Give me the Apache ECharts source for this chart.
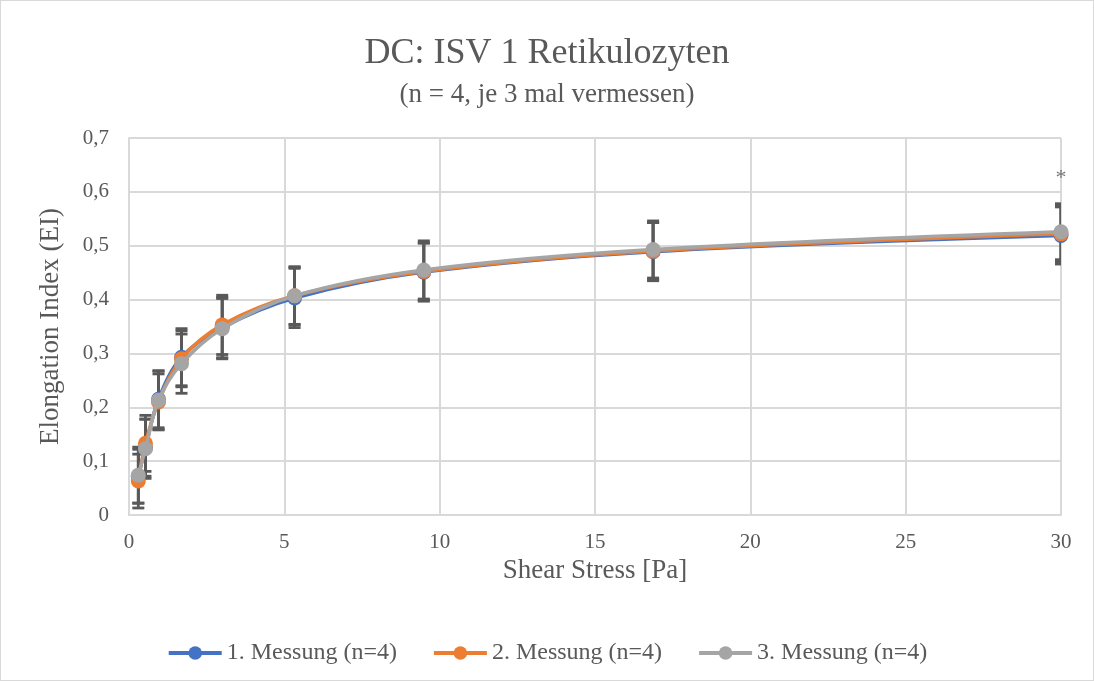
<!DOCTYPE html>
<html>
<head>
<meta charset="utf-8">
<script src="https://cdn.jsdelivr.net/npm/echarts@6/dist/echarts.min.js"></script>
<style>
  html, body { margin: 0; padding: 0; background: #ffffff; }
  #chart { width: 1092px; height: 679px; border: 1px solid #d9d9d9; }
</style>
</head>
<body>
<div id="chart"></div>
<script>
// Shear stress levels [Pa]
const shearStress = [0.3, 0.53, 0.95, 1.69, 3.0, 5.33, 9.49, 16.87, 30];

// Mean elongation index per measurement run
const messung1 = [0.072, 0.125, 0.215, 0.293, 0.348, 0.403, 0.451, 0.489, 0.519];
const messung2 = [0.063, 0.133, 0.210, 0.290, 0.353, 0.407, 0.452, 0.490, 0.522];
const messung3 = [0.074, 0.123, 0.213, 0.281, 0.346, 0.407, 0.455, 0.493, 0.526];

// Standard deviations (error bars)
const sd1 = [0.050, 0.053, 0.053, 0.053, 0.056, 0.055, 0.054, 0.054, 0.053];
const sd2 = [0.050, 0.052, 0.052, 0.052, 0.055, 0.053, 0.053, 0.053, 0.053];
const sd3 = [0.052, 0.055, 0.054, 0.055, 0.056, 0.054, 0.054, 0.053, 0.052];

const seriesNames = ['1. Messung (n=4)', '2. Messung (n=4)', '3. Messung (n=4)'];
const seriesColors = ['#4472C4', '#ED7D31', '#A5A5A5'];

// Significance marker
const significance = [[30, 0.626, '*']];

const xTicks = { min: 0, max: 30, interval: 5 };
const yTicks = { min: 0, max: 0.7, interval: 0.1 };

const font = '"Liberation Serif", "Times New Roman", serif';
const textColor = '#595959';

const means = [messung1, messung2, messung3];
const sds = [sd1, sd2, sd3];

function errorBarSeries(idx) {
  const data = shearStress.map((x, i) => [x, means[idx][i] - sds[idx][i], means[idx][i] + sds[idx][i]]);
  return {
    type: 'custom',
    name: 'err' + idx,
    data: data,
    z: 1,
    clip: true,
    silent: true,
    encode: { x: 0, y: [1, 2] },
    renderItem: function (params, api) {
      const x = api.value(0);
      const lo = api.coord([x, api.value(1)]);
      const hi = api.coord([x, api.value(2)]);
      const hw = 6;
      const style = { stroke: '#595959', lineWidth: 2.8, fill: null };
      return {
        type: 'group',
        children: [
          { type: 'line', shape: { x1: lo[0], y1: lo[1], x2: hi[0], y2: hi[1] }, style: style },
          { type: 'line', shape: { x1: hi[0] - hw, y1: hi[1], x2: hi[0] + hw, y2: hi[1] }, style: style },
          { type: 'line', shape: { x1: lo[0] - hw, y1: lo[1], x2: lo[0] + hw, y2: lo[1] }, style: style }
        ]
      };
    }
  };
}

function lineSeries(idx) {
  return {
    type: 'line',
    name: seriesNames[idx],
    data: shearStress.map((x, i) => [x, means[idx][i]]),
    smooth: 0.35,
    z: 2 + idx,
    symbol: 'circle',
    symbolSize: 15,
    showSymbol: true,
    itemStyle: { color: seriesColors[idx] },
    lineStyle: { color: seriesColors[idx], width: 3.5 },
    emphasis: { disabled: true }
  };
}

const chart = echarts.init(document.getElementById('chart'), null, { renderer: 'canvas' });

chart.setOption({
  animation: false,
  backgroundColor: '#ffffff',
  title: [
    {
      left: 'center', top: 30,
      text: 'DC: ISV 1 Retikulozyten',
      textStyle: { fontFamily: font, fontSize: 36, fontWeight: 'normal', color: textColor }
    },
    {
      left: 'center', top: 75,
      text: '(n = 4, je 3 mal vermessen)',
      textStyle: { fontFamily: font, fontSize: 27, fontWeight: 'normal', color: textColor }
    }
  ],
  legend: {
    data: seriesNames,
    top: 635,
    left: 'center',
    itemWidth: 53,
    itemHeight: 17,
    itemGap: 35,
    lineStyle: { width: 4 },
    textStyle: { fontFamily: font, fontSize: 24, color: textColor }
  },
  grid: { left: 128, right: 32, top: 137, bottom: 165, containLabel: false },
  xAxis: {
    type: 'value',
    min: xTicks.min, max: xTicks.max, interval: xTicks.interval,
    name: 'Shear Stress [Pa]',
    nameLocation: 'middle',
    nameGap: 42,
    nameTextStyle: { fontFamily: font, fontSize: 27, color: textColor },
    axisLine: { show: true, lineStyle: { color: '#d9d9d9', width: 2 } },
    axisTick: { show: false },
    axisLabel: { fontFamily: font, fontSize: 21, color: textColor, margin: 17 },
    splitLine: { show: true, lineStyle: { color: '#d9d9d9', width: 2 } }
  },
  yAxis: {
    type: 'value',
    min: yTicks.min, max: yTicks.max, interval: yTicks.interval,
    name: 'Elongation Index (EI)',
    nameLocation: 'middle',
    nameGap: 65,
    nameRotate: 90,
    nameTextStyle: { fontFamily: font, fontSize: 27, color: textColor },
    axisLine: { show: true, lineStyle: { color: '#d9d9d9', width: 2 } },
    axisTick: { show: false },
    axisLabel: {
      fontFamily: font, fontSize: 21, color: textColor, margin: 20,
      formatter: function (v) { return Number(v.toFixed(1)).toString().replace('.', ','); }
    },
    splitLine: { show: true, lineStyle: { color: '#d9d9d9', width: 2 } }
  },
  series: [
    errorBarSeries(0), errorBarSeries(1), errorBarSeries(2),
    lineSeries(0), lineSeries(1), lineSeries(2),
    {
      type: 'scatter',
      name: 'sig',
      data: significance,
      symbolSize: 2,
      itemStyle: { color: 'rgba(0,0,0,0)' },
      clip: false,
      silent: true,
      z: 6,
      label: {
        show: true, position: 'inside',
        formatter: function (p) { return p.value[2]; },
        fontFamily: font, fontSize: 22, color: textColor
      }
    }
  ]
});
</script>
</body>
</html>
